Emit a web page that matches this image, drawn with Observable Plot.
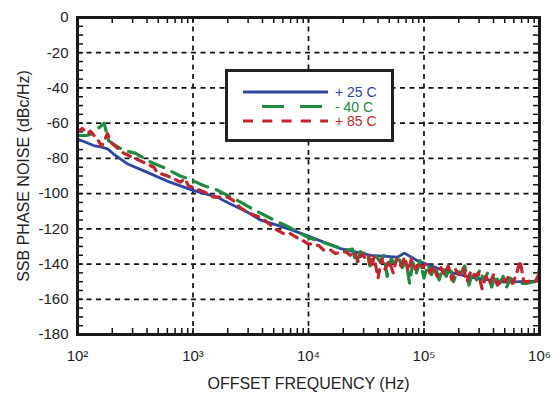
<!DOCTYPE html>
<html>
<head>
<meta charset="utf-8">
<script src="https://cdn.jsdelivr.net/npm/d3@7"></script>
<script src="https://cdn.jsdelivr.net/npm/@observablehq/plot@0.6"></script>
<style>
  html, body { margin: 0; padding: 0; background: #fff; }
  #wrap { position: relative; width: 558px; height: 397px; font-family: "Liberation Sans", Arial, Helvetica, sans-serif; }
  #legend { position: absolute; left: 225px; top: 69px; width: 163px; height: 67px; border: 3px solid #222; background: #fff; }
  #legend svg { display: block; }
</style>
</head>
<body>
<div id="wrap"></div>
<script>
// ---- data ----
const seriesNames = ["+ 25 C", "- 40 C", "+ 85 C"];
const seriesColors = ["#2c46a2", "#1f8a40", "#c2252d"];

const blueF = [100, 138, 162, 182, 204, 269, 398, 631, 1000, 1620, 2090, 2950, 3800, 4680, 6760, 10500, 19000, 34700, 58900, 67600, 87100, 148000, 251000, 490000, 891000, 1000000];
const blueV = [-69, -72.7, -73.6, -74.6, -77.4, -83, -87.8, -93.5, -98.2, -102, -105.8, -110.5, -114.9, -116.8, -120, -124.7, -131.3, -135.1, -136.1, -133.8, -138, -143.7, -147.4, -150.3, -149.7, -149];

const greenF = [100, 120, 135, 151, 170, 186, 195, 251, 316, 427, 550, 776, 912, 1230, 1620, 2450, 3470, 5010, 6760, 10000, 13500, 19000,
  22000, 24000, 26000, 28000, 30000, 32000, 34000, 36000, 39000, 42000, 45000, 48000, 52000, 56000, 60000, 65000, 70000, 75000, 80000, 86000, 92000,
  100000, 108000, 116000, 125000, 135000, 145000, 156000, 168000, 180000, 195000, 210000, 225000, 245000, 265000, 285000, 305000, 330000, 355000,
  385000, 415000, 450000, 485000, 520000, 560000, 610000, 660000, 710000, 770000, 830000, 900000, 960000, 1000000];
const greenV = [-67, -67, -66, -63, -60, -70, -71, -75.5, -77, -82, -85, -90, -91.5, -95.4, -98, -104, -109.6, -115, -119, -125, -127.7, -131,
  -132, -131.5, -140, -133, -134, -133, -141, -134.5, -136, -139, -135, -147, -137, -140, -136, -142, -138, -151, -139, -145, -138,
  -148, -140, -146, -141, -149, -142, -147, -141, -150, -144, -145, -141, -152, -144, -149, -143, -150, -145,
  -153, -146, -151, -147, -153, -148, -150, -149, -151, -151, -150.5, -150, -149, -142];

const redF = [100, 110, 123, 129, 148, 162, 182, 190, 195, 251, 302, 339, 457, 490, 603, 676, 776, 851, 912, 1350, 1510, 2000, 2240, 2570, 2950,
  3980, 5130, 6030, 6920, 7940, 8910, 9770, 12300, 13500, 15500, 17000,
  21000, 23000, 25000, 27000, 29000, 31000, 33000, 35000, 37000, 40000, 43000, 46000, 50000, 54000, 58000, 63000, 68000, 73000, 78000, 84000,
  90000, 96000, 104000, 112000, 120000, 130000, 140000, 150000, 162000, 174000, 187000, 200000, 218000, 235000, 255000, 275000, 295000,
  318000, 342000, 370000, 400000, 432000, 467000, 503000, 540000, 585000, 630000, 680000, 730000, 790000, 850000, 920000, 1000000];
const redV = [-65, -63, -66, -64.5, -69, -73, -66, -69, -71, -77, -79.5, -81, -85, -88, -90, -91.5, -93.5, -91.5, -95.5, -100, -102, -102, -104, -108, -110.7,
  -114, -120, -122.6, -122.6, -125, -126.6, -128.3, -129.5, -132, -132, -134,
  -133, -135, -133, -139, -134, -137, -135, -142, -136, -148, -137, -143, -138, -145, -137, -141, -136, -144, -137, -143,
  -139, -142, -140, -145, -141, -147, -142, -146, -141, -149, -143, -146, -142, -150, -144, -147, -145,
  -154, -147, -151, -146, -152, -148, -150, -147, -151, -146, -138, -150, -150, -149, -150, -145];

const xMajor = [1e2, 1e3, 1e4, 1e5, 1e6];
const yMajor = [0, -20, -40, -60, -80, -100, -120, -140, -160, -180];
const supDigits = {"2": "\u00b2", "3": "\u00b3", "4": "\u2074", "5": "\u2075", "6": "\u2076"};

// ---- build tables ----
const toRows = (F, V) => F.map((f, i) => ({f, v: V[i]}));
const blue = toRows(blueF, blueV);
const green = toRows(greenF, greenV);
const red = toRows(redF, redV);

const xMinor = [];
for (let e = 2; e < 6; e++) for (let m = 1; m < 10; m++) xMinor.push(m * Math.pow(10, e));
const yMinor = d3.range(-175, -1, 5);

const font = "'Liberation Sans', Arial, Helvetica, sans-serif";
const W = 558, H = 397, mL = 77, mR = 19, mT = 17, mB = 63;
const innerW = W - mL - mR, innerH = H - mT - mB;
const tickLen = 6;
const tickStyle = {stroke: "#111", strokeWidth: 1.5, strokeOpacity: 1};

const chart = Plot.plot({
  width: W,
  height: H,
  marginLeft: mL,
  marginRight: mR,
  marginTop: mT,
  marginBottom: mB,
  style: {fontFamily: font, fontSize: "15px", color: "#222", background: "#fff", overflow: "visible"},
  x: {type: "log", domain: [100, 1e6], label: null},
  y: {domain: [-180, 0], label: null},
  marks: [
    Plot.gridX(xMajor.slice(1, -1), {stroke: "#111", strokeOpacity: 1, strokeWidth: 1.7, strokeDasharray: "5,4.5"}),
    Plot.gridY(yMajor.slice(1, -1), {stroke: "#111", strokeOpacity: 1, strokeWidth: 1.7, strokeDasharray: "5,4.5"}),
    // inward minor ticks on all four sides of the frame
    Plot.ruleX(xMinor, {x: d => d, insetTop: innerH - tickLen, ...tickStyle}),
    Plot.ruleX(xMinor, {x: d => d, insetBottom: innerH - tickLen, ...tickStyle}),
    Plot.ruleY(yMinor, {y: d => d, insetRight: innerW - tickLen, ...tickStyle}),
    Plot.ruleY(yMinor, {y: d => d, insetLeft: innerW - tickLen, ...tickStyle}),
    Plot.line(blue, {x: "f", y: "v", stroke: seriesColors[0], strokeWidth: 2.8, clip: true}),
    Plot.line(green, {x: "f", y: "v", stroke: seriesColors[1], strokeWidth: 3.2, strokeDasharray: "15,9", clip: true}),
    Plot.line(red, {x: "f", y: "v", stroke: seriesColors[2], strokeWidth: 3.2, strokeDasharray: "8,7", clip: true}),
    Plot.axisX(xMajor, {
      anchor: "bottom", tickSize: 0, tickPadding: 16, fontSize: 15, fill: "#222", label: null,
      tickFormat: d => "10" + supDigits[String(Math.round(Math.log10(d)))]
    }),
    Plot.axisY(yMajor, {anchor: "left", tickSize: 0, tickPadding: 9, fontSize: 15, fill: "#222", tickFormat: d => String(d), label: null}),
    Plot.text(["OFFSET FREQUENCY (Hz)"], {frameAnchor: "bottom", dy: 54, fontSize: 16, fill: "#222", textAnchor: "middle", text: d => d}),
    Plot.text(["SSB PHASE NOISE (dBc/Hz)"], {frameAnchor: "left", rotate: -90, dx: -54, fontSize: 16, fill: "#222", textAnchor: "middle", text: d => d}),
    Plot.frame({stroke: "#1a1a1a", strokeWidth: 3})
  ]
});

const wrap = document.getElementById("wrap");
wrap.appendChild(chart);

// ---- legend (HTML overlay inside the plot area) ----
const legend = document.createElement("div");
legend.id = "legend";
const lw = 163, lh = 67;
const svg = d3.create("svg").attr("width", lw).attr("height", lh);
const rowsY = [20, 34.5, 49];
const dashes = [null, "22,16", "10,9.3"];
const lineStart = [15, 34, 15];
const lineEnd = [100, 94, 100];
seriesNames.forEach((name, i) => {
  svg.append("line")
    .attr("x1", lineStart[i]).attr("x2", lineEnd[i])
    .attr("y1", rowsY[i]).attr("y2", rowsY[i])
    .attr("stroke", seriesColors[i]).attr("stroke-width", 3.2)
    .attr("stroke-dasharray", dashes[i]);
  svg.append("text")
    .attr("x", 107).attr("y", rowsY[i] + 5)
    .attr("fill", seriesColors[i])
    .attr("font-family", font).attr("font-size", 14)
    .text(name);
});
legend.appendChild(svg.node());
wrap.appendChild(legend);
</script>
</body>
</html>
